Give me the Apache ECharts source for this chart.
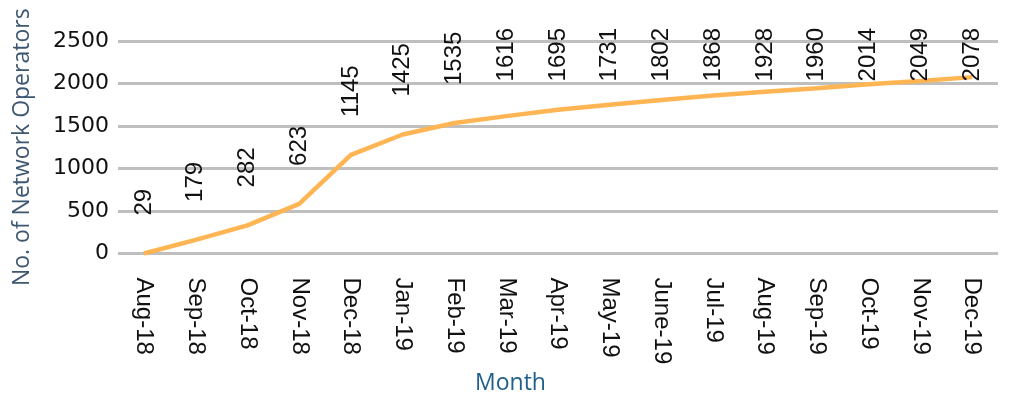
<!DOCTYPE html>
<html>
<head>
<meta charset="utf-8">
<script src="https://cdn.jsdelivr.net/npm/echarts@6/dist/echarts.min.js"></script>
<style>
  html, body { margin: 0; padding: 0; background: #fff; }
  #chart { width: 1024px; height: 394px; }
</style>
</head>
<body>
<div id="chart"></div>
<script>
// ---- data ----
const months = ['Aug-18','Sep-18','Oct-18','Nov-18','Dec-18','Jan-19','Feb-19','Mar-19','Apr-19','May-19','June-19','Jul-19','Aug-19','Sep-19','Oct-19','Nov-19','Dec-19'];
// values shown as data labels
const operatorLabels = [29, 179, 282, 623, 1145, 1425, 1535, 1616, 1695, 1731, 1802, 1868, 1928, 1960, 2014, 2049, 2078];
// values as the drawn line sits in the picture
const operatorLine = [0, 160, 330, 583, 1160, 1400, 1535, 1616, 1690, 1750, 1805, 1858, 1903, 1945, 1990, 2030, 2075];
const yTicks = [0, 500, 1000, 1500, 2000, 2500];

const chart = echarts.init(document.getElementById('chart'), null, { renderer: 'canvas' });

const option = {
  animation: false,
  backgroundColor: '#ffffff',
  grid: { left: 118, right: 26, top: 41, bottom: 140.5, outerBoundsMode: 'none', containLabel: false },
  xAxis: {
    type: 'category',
    data: months,
    boundaryGap: true,
    axisLine: { show: false },
    axisTick: { show: false },
    axisLabel: {
      rotate: -90,
      margin: 24,
      interval: 0,
      color: '#111111',
      fontFamily: "'Liberation Sans', Arial, sans-serif",
      fontSize: 24
    },
    name: 'Month',
    nameLocation: 'middle',
    nameGap: 111,
    nameTextStyle: {
      color: '#1F5F8B',
      fontFamily: "'Open Sans', sans-serif",
      fontSize: 23,
      padding: [0, 95, 0, 0]
    }
  },
  yAxis: {
    type: 'value',
    min: yTicks[0],
    max: yTicks[yTicks.length - 1],
    interval: yTicks[1] - yTicks[0],
    axisLine: { show: false },
    axisTick: { show: false },
    splitLine: { show: true, lineStyle: { color: '#BFBFBF', width: 3 } },
    axisLabel: {
      margin: 9,
      color: '#111111',
      fontFamily: "'DejaVu Sans', sans-serif",
      fontSize: 22,
      formatter: v => String(v)
    },
    name: 'No. of Network Operators',
    nameLocation: 'middle',
    nameRotate: 90,
    nameGap: 84,
    nameTextStyle: {
      color: '#3E5770',
      fontFamily: "'Open Sans', sans-serif",
      fontSize: 23
    }
  },
  series: [{
    type: 'line',
    data: operatorLine,
    symbol: 'circle',
    symbolSize: 0,
    showSymbol: true,
    lineStyle: { color: '#FFB553', width: 4.5 },
    itemStyle: { color: '#FFB553' },
    label: {
      show: true,
      position: 'top',
      distance: 38,
      rotate: 90,
      align: 'left',
      verticalAlign: 'middle',
      color: '#111111',
      fontFamily: "'Liberation Sans', Arial, sans-serif",
      fontSize: 24,
      formatter: p => String(operatorLabels[p.dataIndex])
    },
    labelLayout: function (p) {
      const minTop = 28;
      const r = p.labelRect;
      if (r && r.y < minTop) {
        return { y: r.y + r.height + (minTop - r.y) };
      }
      return {};
    }
  }]
};
chart.setOption(option);
</script>
</body>
</html>
